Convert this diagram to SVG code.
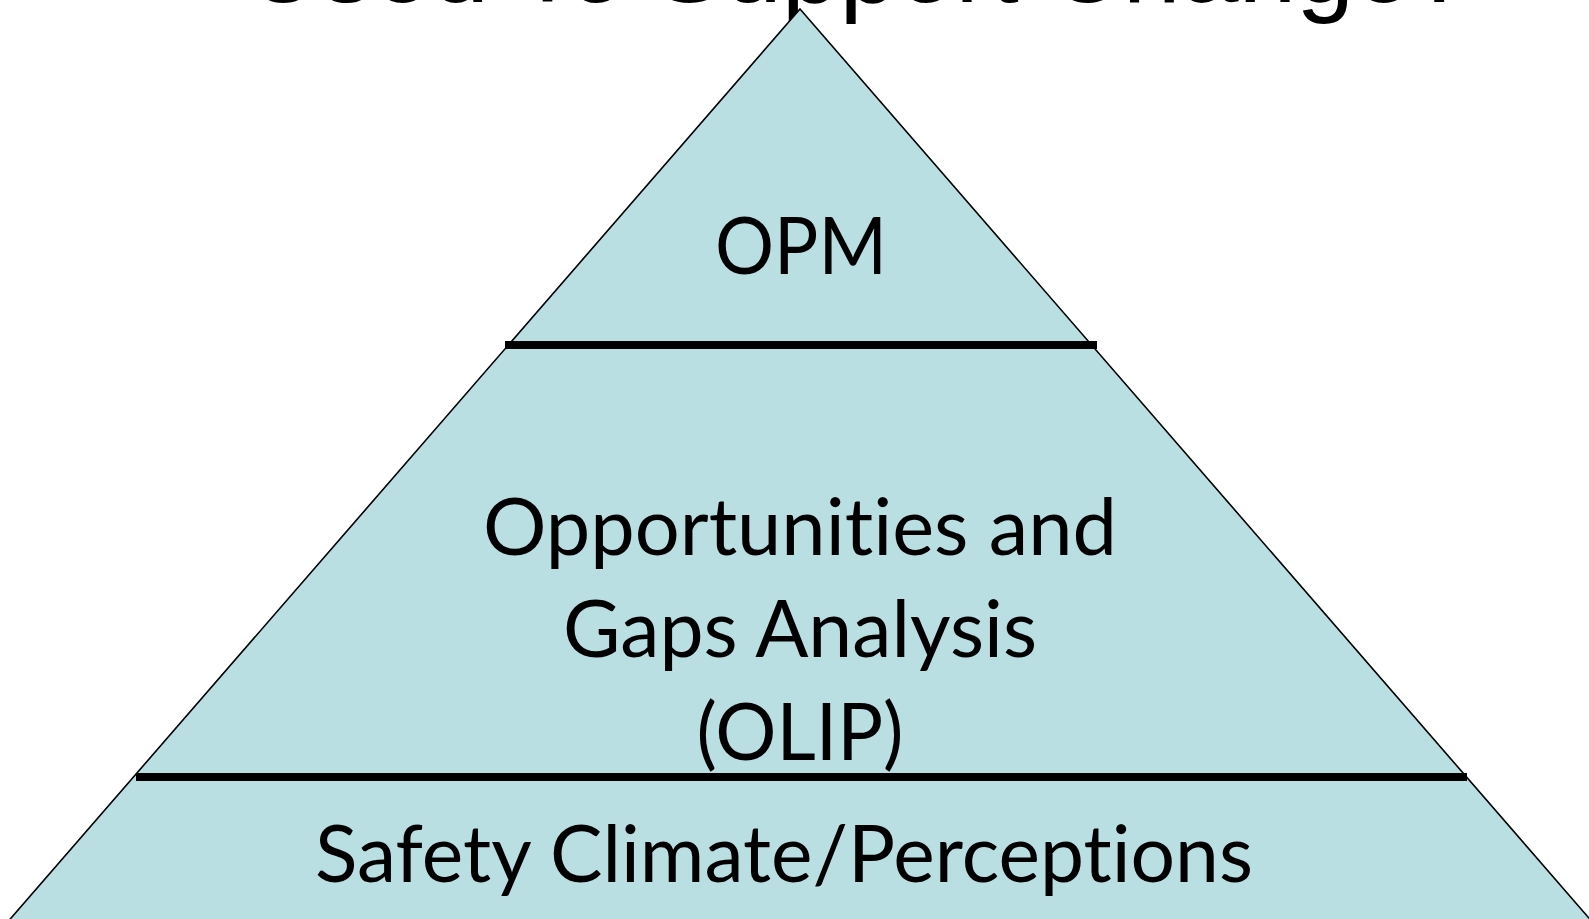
<svg xmlns="http://www.w3.org/2000/svg" width="1589" height="919" viewBox="0 0 1589 919">
<style>
.title{font-family:"Liberation Sans",Arial,sans-serif;font-size:104px;fill:#000}
.lbl{font-family:Lato,"Open Sans","Liberation Sans",sans-serif;font-size:80px;fill:#000;text-anchor:middle;font-variant-ligatures:none;font-feature-settings:"liga" 0,"clig" 0}
.sep{stroke:#000;stroke-width:8;stroke-linecap:butt}
</style>
<rect width="1589" height="919" fill="#fff"/>
<text class="title" x="246" y="2">Used To Support Change?</text>
<g id="pyramid">
<polygon points="800,9 1608,940 -8,940" fill="#B9DFE3" stroke="#000" stroke-width="1.6" stroke-linejoin="miter"/>
</g>
<g id="separators">
<line class="sep" x1="505" y1="345" x2="1097" y2="345"/>
<line class="sep" x1="136" y1="777" x2="1467" y2="777"/>
</g>
<g id="tier-top">
<text class="lbl" x="801" y="274" textLength="172" lengthAdjust="spacingAndGlyphs">OPM</text>
</g>
<g id="tier-middle">
<text class="lbl" x="800" y="555" textLength="634" lengthAdjust="spacingAndGlyphs">Opportunities and</text>
<text class="lbl" x="800" y="657" textLength="474" lengthAdjust="spacingAndGlyphs">Gaps Analysis</text>
<text class="lbl" x="800" y="760" textLength="207" lengthAdjust="spacingAndGlyphs">(OLIP)</text>
</g>
<g id="tier-bottom">
<text class="lbl" x="784" y="882" textLength="938" lengthAdjust="spacingAndGlyphs">Safety Climate/Perceptions</text>
</g>
</svg>
